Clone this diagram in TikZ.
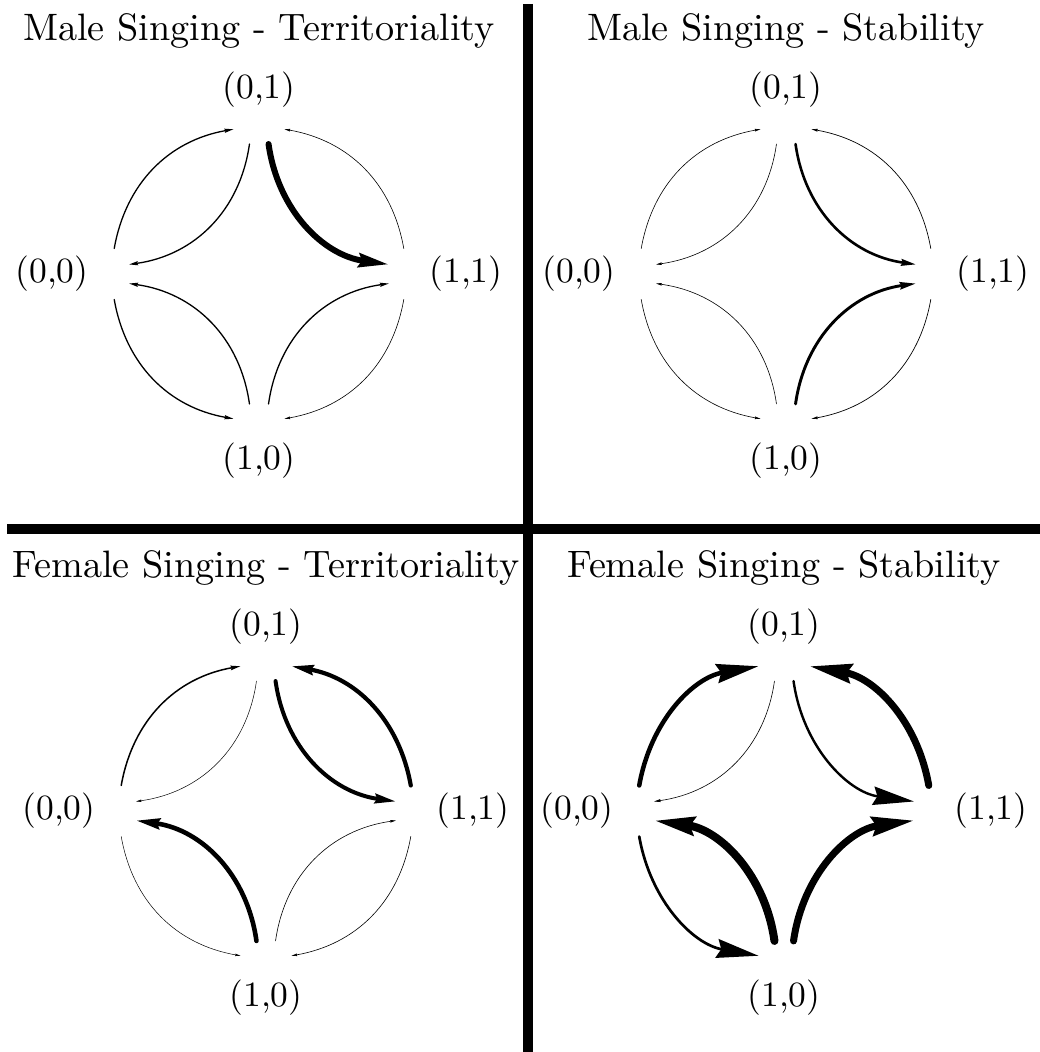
\documentclass[tikz,border=0pt]{standalone}
\usetikzlibrary{arrows.meta}
\tikzset{
  lab/.style={scale=3.55,inner sep=0pt},
  ttl/.style={scale=3.82,inner sep=0pt,anchor=base},
  bar/.style={line width=10pt},
}
\begin{document}
\begin{tikzpicture}[x=1pt,y=1pt]
\useasboundingbox (0,0) rectangle (1040,1052);
% four panels: centre, title, line widths and head lengths of the eight arcs
\foreach \cx/\cy/\title/\ws/\hs [count=\i] in {
259/778/{Male Singing - Territoriality}/{1.3,1.3,0.6,6,1.3,1.3,0.6,1.3}/{8.9,8.9,5.7,30,8.9,8.9,5.7,8.9},
786/778/{Male Singing - Stability}/{0.6,0.6,0.7,2.6,0.6,0.6,0.7,2.9}/{5.7,5.7,6.2,14.7,5.7,5.7,6.2,16},
266/241/{Female Singing - Territoriality}/{1.5,0.5,4.2,4,0.5,4.6,0.6,0.6}/{9.8,5.3,21.9,21,5.3,23.7,5.7,5.7},
784/241/{Female Singing - Stability}/{4.5,0.6,7,2.4,2.7,8,0,7}/{42,6.5,42,41,42,40,0,42}}{
\begin{scope}[shift={(\cx,\cy)},name prefix=p\i-]
\node[ttl] (title) at (0,233) {\title};
\node[lab] (T) at (0,184) {(0,1)};
\node[lab] (R) at (207,0) {(1,1)};
\node[lab] (B) at (0,-187) {(1,0)};
\node[lab] (L) at (-207,0) {(0,0)};
\foreach \n/\a in {T/90,R/0,B/270,L/180}{
  \coordinate (\n-oa) at ({\a+10}:147);
  \coordinate (\n-ob) at ({\a-10}:147);
  \coordinate (\n-ia) at ({\a+4.2}:130.3);
  \coordinate (\n-ib) at ({\a-4.2}:130.3);
}
\foreach \u/\v/\ang [count=\k from 0] in {L-ob/T-oa/35,T-ia/L-ib/37,R-oa/T-ob/-35,T-ib/R-ia/-37,
  L-oa/B-ob/-35,B-ib/L-ia/-37,R-ob/B-oa/35,B-ia/R-ib/37}{
  \pgfmathsetmacro{\w}{{\ws}[\k]}
  \pgfmathsetmacro{\h}{{\hs}[\k]}
  \pgfmathsetmacro{\hw}{.45*\h}
  \pgfmathsetmacro{\hi}{.1*\h}
  \ifdim\w pt>0pt
  \draw[line width=\w pt,line cap=round,-{Stealth[length=\h pt,width=\hw pt,inset=\hi pt]}]
    (\u) to[bend left=\ang] (\v);
  \fi
}
\end{scope}}
\draw[bar] (528,1048) -- (528,0);
\draw[bar] (7,523) -- (1040,523);
\end{tikzpicture}
\end{document}
